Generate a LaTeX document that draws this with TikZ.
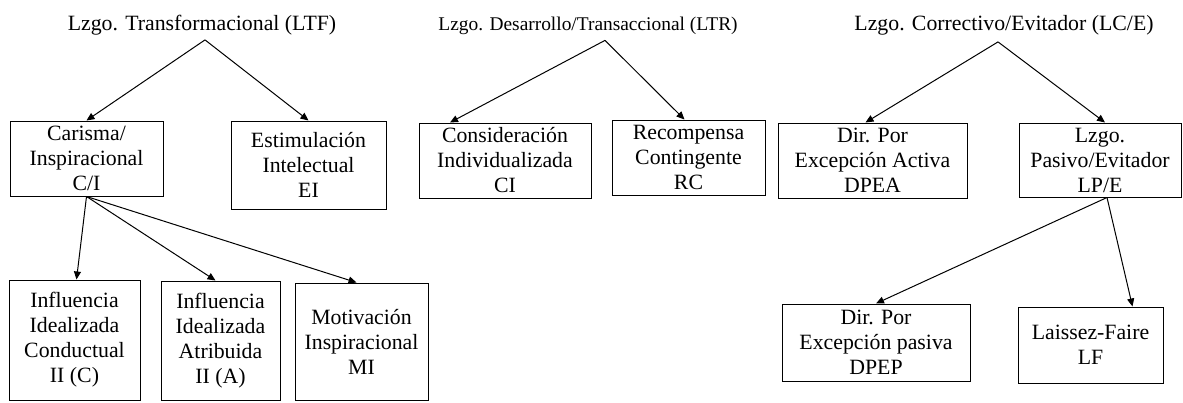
\documentclass[tikz,border=0pt]{standalone}
\usepackage{fontspec}
\setmainfont{Liberation Serif}
\usetikzlibrary{arrows.meta}
\tikzset{
    hop/.style={draw,line width=1pt,inner sep=0pt,align=center},
    tieude/.style={inner sep=0pt,anchor=base},
    mui/.style={line width=1pt,-{Triangle[length=8pt,width=7pt]}},
}
\begin{document}
\begin{tikzpicture}[x=1pt,y=-1pt,font=\fontsize{21.8}{25}\selectfont]
    \useasboundingbox (0,0) rectangle (1183,402);
    \path
    (202,30) node[tieude] (ltf) {Lzgo. Transformacional (LTF)} % <<< tiêu đề
    (588,30) node[tieude,font=\fontsize{19.4}{25}\selectfont] (ltr)
    {Lzgo. Desarrollo/Transaccional (LTR)}
    (1004,30) node[tieude] (lce) {Lzgo. Correctivo/Evitador (LC/E)}
    (86.5,158.5) node[hop,minimum width=153,minimum height=75] (ci) % <<< hàng 1
    {Carisma/\\Inspiracional\\C/I}
    (308.5,165) node[hop,minimum width=155,minimum height=88] (ei)
    {Estimulación\\Intelectual\\EI}
    (505,160.5) node[hop,minimum width=172,minimum height=75] (cind)
    {Consideración\\Individualizada\\CI}
    (688.5,157.5) node[hop,minimum width=153,minimum height=75] (rc)
    {Recompensa\\Contingente\\RC}
    (872.5,160.5) node[hop,minimum width=189,minimum height=75] (dpea)
    {Dir. Por\\Excepción Activa\\DPEA}
    (1100,160) node[hop,minimum width=162,minimum height=74] (lpe)
    {Lzgo.\\Pasivo/Evitador\\LP/E}
    (74.5,340) node[hop,minimum width=131,minimum height=120] (iic) % <<< hàng 2
    {Influencia\\Idealizada\\Conductual\\II (C)}
    (220.5,340.5) node[hop,minimum width=119,minimum height=119] (iia)
    {Influencia\\Idealizada\\Atribuida\\II (A)}
    (361.5,341.5) node[hop,minimum width=133,minimum height=117] (mi)
    {Motivación\\Inspiracional\\MI}
    (876,342.5) node[hop,minimum width=188,minimum height=77] (dpep)
    {Dir. Por\\Excepción pasiva\\DPEP}
    (1090.5,345) node[hop,minimum width=145,minimum height=76] (lf)
    {Laissez-Faire\\LF};
    \draw[mui] ([xshift=3pt,yshift=-5pt]ltf.south)--(ci.north);
    \draw[mui] ([xshift=3pt,yshift=-5pt]ltf.south)--(ei.north);
    \draw[mui] ([xshift=17pt,yshift=-6pt]ltr.south)--([xshift=-55pt]cind.north);
    \draw[mui] ([xshift=17pt,yshift=-6pt]ltr.south)--([xshift=-4pt]rc.north);
    \draw[mui] ([xshift=-6pt,yshift=-7pt]lce.south)--([xshift=-7pt]dpea.north);
    \draw[mui] ([xshift=-6pt,yshift=-7pt]lce.south)--([xshift=5pt]lpe.north);
    \draw[mui] (ci.south)--([xshift=2pt]iic.north);
    \draw[mui] (ci.south)--([xshift=-5pt]iia.north);
    \draw[mui] (ci.south)--([xshift=-5pt]mi.north);
    \draw[mui] ([xshift=7pt]lpe.south)--(dpep.north);
    \draw[mui] ([xshift=7pt]lpe.south)--([xshift=42pt]lf.north);
\end{tikzpicture}
\end{document}
